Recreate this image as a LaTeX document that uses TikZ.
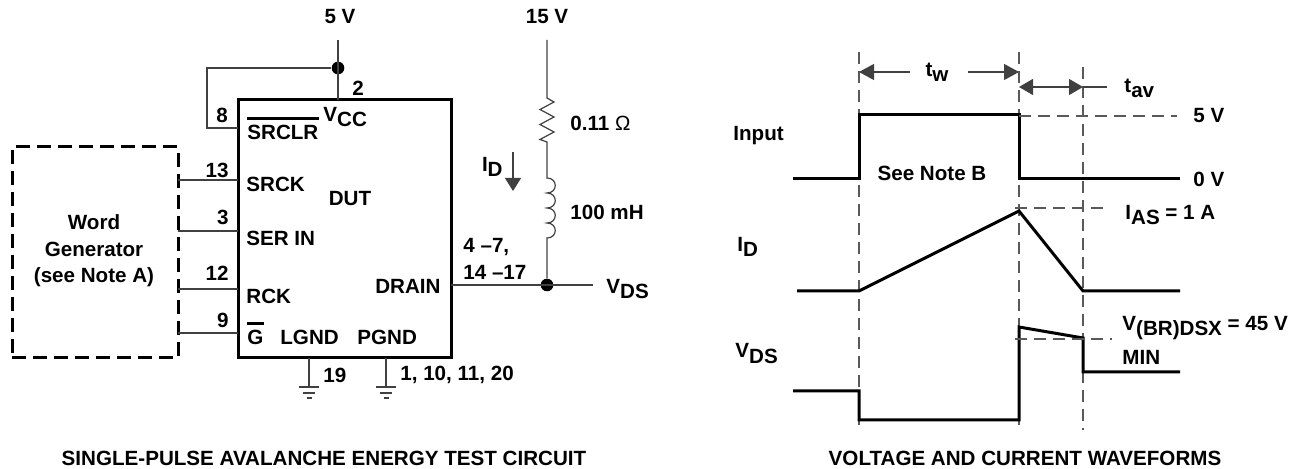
\documentclass[tikz,border=0pt]{standalone}
\usepackage{fontspec}
\setmainfont{Liberation Sans}
\usetikzlibrary{arrows.meta}

\newcommand{\lo}[1]{\raisebox{-2.5pt}{#1}}

\tikzset{
  lbl/.style={font=\fontsize{10.3}{13.3}\selectfont\bfseries, inner sep=0pt},
  wire/.style={line width=0.6pt, black!75},
  wave/.style={line width=1.5pt, line join=miter},
  guide/.style={line width=0.6pt, black!65, dash pattern=on 6pt off 3.5pt},
  junction/.style={circle, fill, inner sep=0pt, minimum size=6.3pt},
  bigtip/.style={-{Triangle[length=7.5pt,width=8pt]}},
  ground/.pic={
    \draw [wire] (-10,0) -- (10,0) (-6,6) -- (6,6) (-2.5,11) -- (2.5,11);
  },
}

\begin{document}
\begin{tikzpicture}[x=0.5pt,y=-0.5pt]
\useasboundingbox (0,0) rectangle (1299,469);

% test circuit
\node [draw, line width=1.5pt, outer sep=0pt, minimum width=106.5pt, minimum height=129pt] (dut) at (344.5,229) {};
\node [draw, line width=1.5pt, dash pattern=on 7pt off 3.5pt, outer sep=0pt, minimum width=83pt, minimum height=105.5pt] (gen) at (95,252.5) {};
\node [lbl, align=center] (genlbl) at (94,251) {Word\\Generator\\(see Note A)};

\foreach \y/\n/\ny in {180/13/170, 231/3/217, 289/12/273, 333/9/320} {
  \coordinate (pin\n) at (238,\y);
  \draw [wire] (pin\n -| gen.east) -- (pin\n);
  \node [lbl, anchor=east] (num\n) at (229,\ny) {\n};
}

\node [lbl, anchor=west] (srclr) at (247,132) {SRCLR};
\draw [line width=1.2pt] ([yshift=3pt]srclr.north west) -- ([yshift=3pt]srclr.north east);
\node [lbl, anchor=base west] (vcc) at (323,122) {V\lo{CC}};
\node [lbl, anchor=west] (srck) at (246,184) {SRCK};
\node [lbl] (dutlbl) at (350,199) {DUT};
\node [lbl, anchor=west] (serin) at (246,238) {SER IN};
\node [lbl, anchor=west] (rck) at (246,296) {RCK};
\node [lbl, anchor=west] (gbar) at (247,337) {G};
\draw [line width=1.2pt] ([yshift=3pt]gbar.north west) -- ([yshift=3pt]gbar.north east);
\node [lbl, anchor=west] (lgnd) at (280,337) {LGND};
\node [lbl, anchor=west] (pgnd) at (357,337) {PGND};
\node [lbl, anchor=east] (drain) at (441,286) {DRAIN};

% 5 V supply and SRCLR tie
\node [lbl] (fivev) at (340,17) {5 V};
\coordinate (vcctop) at (338,40);
\node [junction] (j1) at (338,68) {};
\draw [wire] (vcctop) -- (vcctop |- dut.north);
\coordinate (clr) at (207,128);
\draw [wire] (j1) -| (clr) -- (clr -| dut.west);
\node [lbl] (num2) at (358,88) {2};
\node [lbl] (num8) at (222,115) {8};

% grounds
\foreach \x/\name in {309/lg, 386/pg} {
  \coordinate (\name) at (\x,387);
  \draw [wire] (\name |- dut.south) -- (\name);
  \pic at (\name) {ground};
}
\node [lbl, anchor=west] (num19) at (323,375) {19};
\node [lbl, anchor=west] (numpg) at (400,375) {1, 10, 11, 20};

% drain load
\node [lbl] (fifteen) at (547,17) {15 V};
\coordinate (ltop15) at (547,40);
\coordinate (rtop) at (547,98);
\coordinate (rbot) at (547,142);
\coordinate (ltop) at (547,178);
\node [junction] (j2) at (547,285) {};
\coordinate (vout) at (593,285);
\draw [wire] (ltop15) -- (rtop) -- ++(7,4) -- ++(-14,7.5) -- ++(14,7.5) -- ++(-14,7.5)
  -- ++(14,7.5) -- ++(-14,7.5) -- (rbot) -- (ltop)
  \foreach \y in {178,193,208,223} { .. controls (558,\y) and (558,\y+15) .. (547,\y+15) }
  -- (j2);
\draw [wire] (dut.east |- vout) -- (vout);
\node [lbl, anchor=base west] (vds) at (606,294) {V\lo{DS}};
\node [lbl, anchor=west] (rval) at (570,123) {0.11 {\mdseries Ω}};
\node [lbl, anchor=west] (lval) at (570,212) {100 mH};
\node [lbl, anchor=west] (drpins) at (463,247) {4 –7,};
\node [lbl, anchor=west] (drpinsb) at (463,272) {14 –17};

\coordinate (idtop) at (513,152);
\coordinate (idbot) at (513,191);
\draw [wire, -{Triangle[length=6.5pt,width=8pt]}] (idtop) -- (idbot);
\node [lbl, anchor=base east] (idlbl) at (503,172) {I\lo{D}};

\node [lbl] (lefttitle) at (324,458) {SINGLE-PULSE AVALANCHE ENERGY TEST CIRCUIT};

% waveforms
\foreach \n/\x/\y in {a/859/52, b/1019/52, c/1083/67} {
  \coordinate (top\n) at (\x,\y);
  \coordinate (bot\n) at (\x,430);
  \draw [guide] (top\n) -- (bot\n);
}
\coordinate (twl) at (859,72);
\coordinate (twa) at (910,72);
\coordinate (twb) at (968,72);
\coordinate (twr) at (1019,72);
\draw [wire, bigtip] (twa) -- (twl);
\draw [wire, bigtip] (twb) -- (twr);
\node [lbl, anchor=base] (twlbl) at (937,77) {t\lo{w}};

\coordinate (tavl) at (1019,87);
\coordinate (tavr) at (1083,87);
\coordinate (tave) at (1107,87);
\draw [wire, {Triangle[length=7pt,width=8pt]}-{Triangle[length=7pt,width=8pt]}] (tavl) -- (tavr);
\draw [wire] (tavr) -- (tave);
\node [lbl, anchor=base west] (tavlbl) at (1124,93) {t\lo{av}};

\draw [wave] (793,179) -- (859,179) -- (859,115) -- (1019,115) -- (1019,179) -- (1180,179);
\draw [guide] (1019,116) -- (1177,116);
\node [lbl, anchor=base west] (inlbl) at (733,141) {Input};
\node [lbl] (noteb) at (932,173) {See Note B};
\node [lbl, anchor=west] (hilbl) at (1193,116) {5 V};
\node [lbl, anchor=west] (lolbl) at (1193,179) {0 V};

\draw [wave] (797,291) -- (859,291) -- (1019,211) -- (1083,291) -- (1180,291);
\draw [guide] (1015,208) -- (1110,208);
\node [lbl, anchor=base west] (iaslbl) at (1125,220) {I\lo{AS} = 1 A};
\node [lbl, anchor=base west] (idwlbl) at (737,252) {I\lo{D}};

\draw [wave] (793,391) -- (859,391) -- (859,420) -- (1019,420) -- (1019,327) -- (1083,338) -- (1083,372) -- (1180,372);
\draw [guide] (1015,339) -- (1112,339);
\node [lbl, anchor=base west] (vbrlbl) at (1122,331) {V\lo{(BR)DSX} = 45 V};
\node [lbl, anchor=base west] (minlbl) at (1122,365) {MIN};
\node [lbl, anchor=base west] (vdswlbl) at (735,358) {V\lo{DS}};

\node [lbl] (righttitle) at (1025,458) {VOLTAGE AND CURRENT WAVEFORMS};
\end{tikzpicture}
\end{document}
